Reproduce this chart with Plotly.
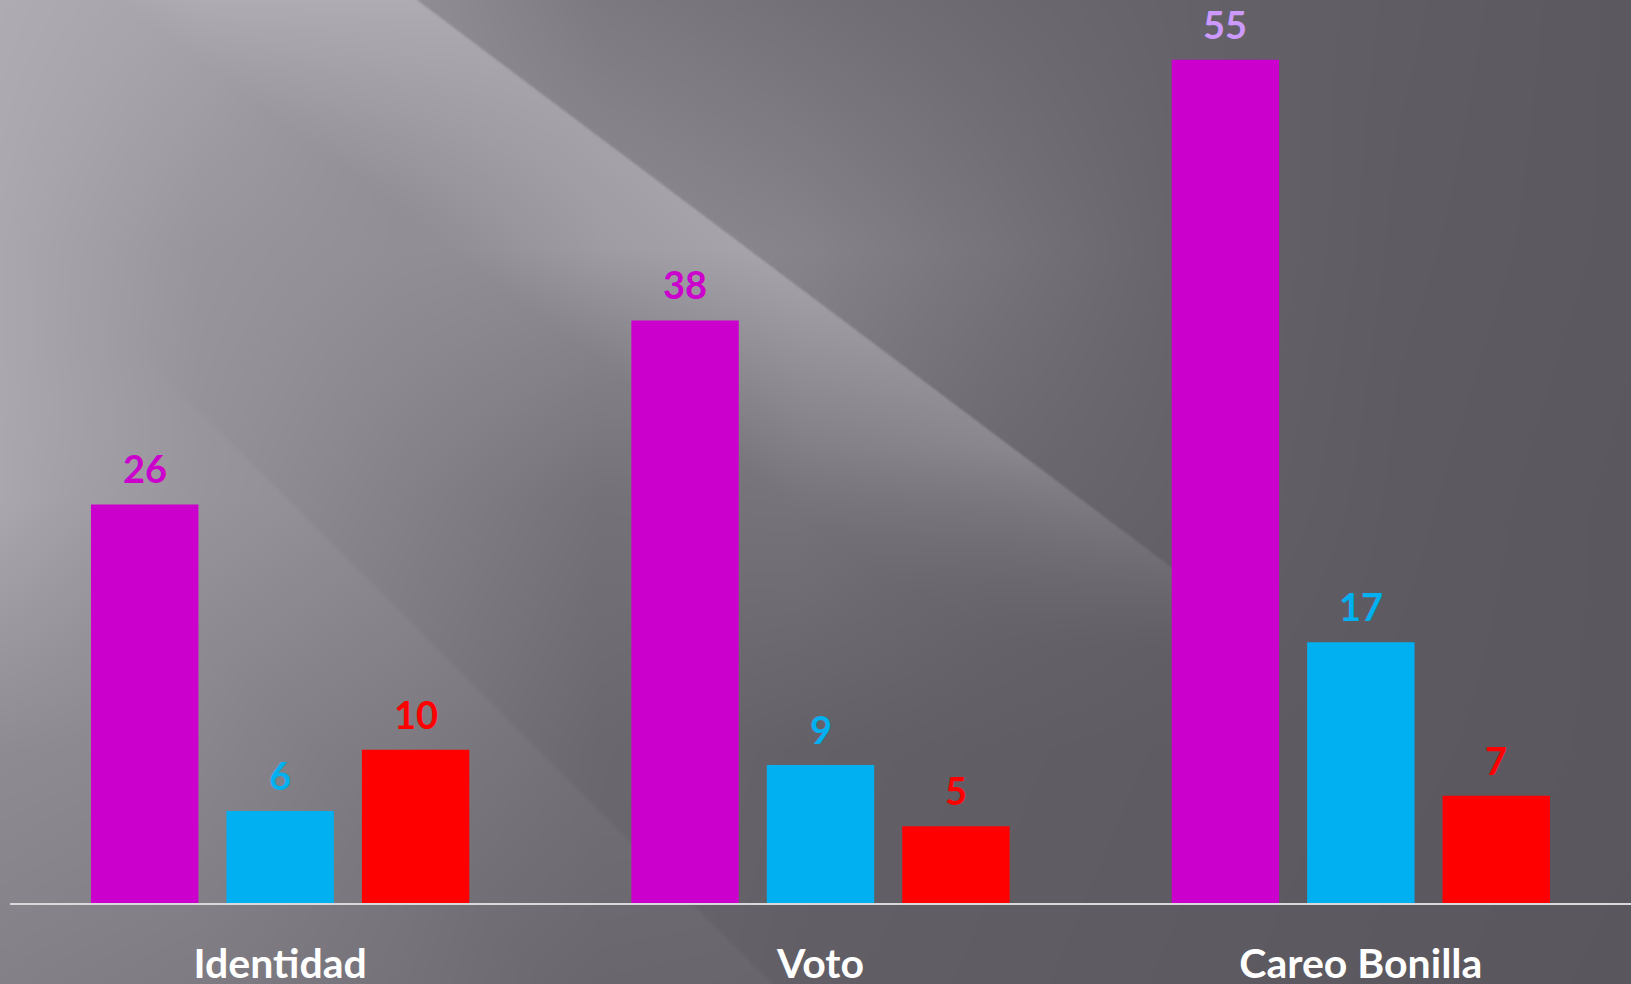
import base64
import struct
import zlib

import numpy as np
import plotly.graph_objects as go

# ---------------- data ----------------
categories = ["Identidad", "Voto", "Careo Bonilla"]
series_names = ["Serie 1", "Serie 2", "Serie 3"]
serie1 = [26, 38, 55]
serie2 = [6, 9, 17]
serie3 = [10, 5, 7]

bar_colors = ["#CC00CC", "#00B0F0", "#FF0000"]
label_colors = [["#CC00CC", "#CC00CC", "#CC99FF"],
                ["#00B0F0", "#00B0F0", "#00B0F0"],
                ["#FF0000", "#FF0000", "#FF0000"]]

# ---------------- page geometry ----------------
W, H = 1631, 984
ML, MR, MT, MB = 10, 0, 0, 81
BARGAP = 0.248
BARGROUPGAP = 0.207
YMAX = 58.9

# ---------------- background picture (decoration) ----------------
def make_background():
    sc = 2
    w, h = W // sc, H // sc
    xc = (np.arange(w) + 0.5) * W / w
    yc = (np.arange(h) + 0.5) * H / h
    gx = [0, 200, 400, 600, 800, 1000, 1200, 1400, 1631]
    gy = [0, 250, 500, 750, 984]
    grid = np.array([
        [174, 166, 146, 124, 115, 107, 100, 95, 91],
        [170, 152, 145, 143, 134, 118, 101, 94, 91],
        [170, 148, 132, 116, 118, 106, 99, 93, 90],
        [142, 137, 123, 106, 99, 96, 94, 92, 90],
        [131, 126, 117, 104, 97, 95, 93, 91, 89],
    ], dtype=float)
    colv = np.array([np.interp(yc, gy, grid[:, j]) for j in range(len(gx))])
    base = np.array([np.interp(xc, gx, colv[:, r]) for r in range(h)])
    X, Y = np.meshgrid(xc, yc)
    # main diagonal light streak (sharp, anti-aliased right edge)
    u = X - 1.33 * Y
    d = 417 - u
    amp = np.clip((650 - Y) / 200.0, 0, 1) * 30
    edge = np.clip((d + 2.0) / 4.0, 0, 1)
    s1 = np.clip(1 - d / 300.0, 0, 1) * edge * amp
    # secondary lower-left streak (subtle)
    u2 = X - 1.0 * Y
    d2 = -211 - u2
    amp2 = np.clip((Y - 350) / 150.0, 0, 1) * 6
    edge2 = np.clip((d2 + 3.0) / 6.0, 0, 1)
    s2 = np.clip(1 - d2 / 220.0, 0, 1) * edge2 * amp2
    v = base + s1 + s2
    img = np.stack([v, v - 2, v + 4], axis=-1)
    img = np.clip(np.round(img), 0, 255).astype(np.uint8)
    raw = b"".join(b"\x00" + img[r].tobytes() for r in range(h))

    def chunk(tag, data):
        return (struct.pack(">I", len(data)) + tag + data
                + struct.pack(">I", zlib.crc32(tag + data) & 0xFFFFFFFF))

    png = (b"\x89PNG\r\n\x1a\n"
           + chunk(b"IHDR", struct.pack(">IIBBBBB", w, h, 8, 2, 0, 0, 0))
           + chunk(b"IDAT", zlib.compress(raw, 9))
           + chunk(b"IEND", b""))
    return "data:image/png;base64," + base64.b64encode(png).decode()


fig = go.Figure()
all_series = [serie1, serie2, serie3]
for name, vals, col in zip(series_names, all_series, bar_colors):
    fig.add_trace(go.Bar(x=categories, y=vals, name=name,
                         marker=dict(color=col, line=dict(width=0)),
                         showlegend=False, hoverinfo="x+y"))

# value labels above bars
slot = (1 - BARGAP) / len(all_series)
annotations = []
for j, vals in enumerate(all_series):
    for i, v in enumerate(vals):
        annotations.append(dict(
            x=i + (j - (len(all_series) - 1) / 2) * slot, y=v,
            xref="x", yref="y", text=str(v), showarrow=False,
            yanchor="bottom", xanchor="center", yshift=11,
            font=dict(family="Lato", size=38, color=label_colors[j][i],
                      weight="bold"),
        ))

pw = W - ML - MR
ph = H - MT - MB
fig.update_layout(
    width=W, height=H,
    margin=dict(l=ML, r=MR, t=MT, b=MB, pad=0),
    barmode="group", bargap=BARGAP, bargroupgap=BARGROUPGAP,
    paper_bgcolor="#5C5A60", plot_bgcolor="rgba(0,0,0,0)",
    annotations=annotations,
    images=[dict(source=make_background(), xref="paper", yref="paper",
                 x=-ML / pw, y=1 + MT / ph, sizex=W / pw, sizey=H / ph,
                 xanchor="left", yanchor="top", sizing="stretch",
                 layer="below")],
    xaxis=dict(showline=True, linecolor="#D9D9D9", linewidth=2,
               showgrid=False, zeroline=False, ticks="",
               tickfont=dict(family="Lato", size=41, color="white",
                             weight="bold"),
               ticklabelstandoff=24, automargin=False,
               range=[-0.5, 2.5]),
    yaxis=dict(visible=False, range=[0, YMAX], showgrid=False,
               zeroline=False, fixedrange=True),
    showlegend=False,
)

fig.write_html("out.html",
               config={"displayModeBar": False},
               post_script="document.body.style.margin='0';"
                           "document.body.style.overflow='hidden';")
